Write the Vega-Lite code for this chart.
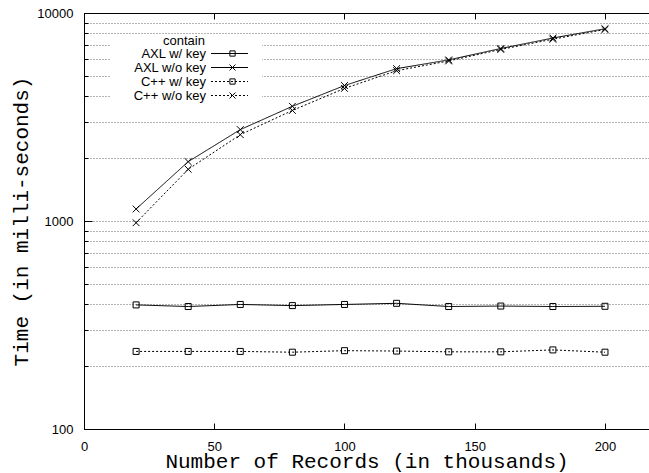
{
  "$schema": "https://vega.github.io/schema/vega-lite/v6.json",
  "width": 565,
  "height": 416,
  "autosize": {"type": "none"},
  "padding": {"left": 84, "top": 13, "right": 0, "bottom": 44},
  "background": "white",
  "title": {
    "text": "contain",
    "anchor": "start",
    "frame": "group",
    "orient": "top",
    "offset": 0,
    "baseline": "middle",
    "dx": 79,
    "dy": 47,
    "font": "Liberation Sans",
    "fontSize": 13,
    "fontWeight": "normal",
    "color": "black"
  },
  "config": {
    "view": {"stroke": null},
    "font": "Liberation Sans",
    "style": {"guide-title": {"fontWeight": "normal"}},
    "axis": {
      "labelFont": "Liberation Sans",
      "labelFontSize": 13,
      "labelColor": "black",
      "titleFont": "Liberation Mono",
      "titleFontSize": 21,
      "titleFontWeight": "normal",
      "titleColor": "black",
      "domainColor": "black",
      "domainWidth": 1,
      "tickColor": "black",
      "tickWidth": 1
    },
    "legend": {
      "labelFont": "Liberation Sans",
      "labelFontSize": 13,
      "labelColor": "black",
      "labelAlign": "right",
      "labelLimit": 0,
      "rowPadding": -2,
      "padding": 0
    }
  },
  "data": {
    "values": [
      {"records": 20, "time": 395, "series": "AXL w/ key"},
      {"records": 40, "time": 388, "series": "AXL w/ key"},
      {"records": 60, "time": 397, "series": "AXL w/ key"},
      {"records": 80, "time": 392, "series": "AXL w/ key"},
      {"records": 100, "time": 397, "series": "AXL w/ key"},
      {"records": 120, "time": 402, "series": "AXL w/ key"},
      {"records": 140, "time": 388, "series": "AXL w/ key"},
      {"records": 160, "time": 390, "series": "AXL w/ key"},
      {"records": 180, "time": 388, "series": "AXL w/ key"},
      {"records": 200, "time": 389, "series": "AXL w/ key"},
      {"records": 20, "time": 1142, "series": "AXL w/o key"},
      {"records": 40, "time": 1928, "series": "AXL w/o key"},
      {"records": 60, "time": 2750, "series": "AXL w/o key"},
      {"records": 80, "time": 3560, "series": "AXL w/o key"},
      {"records": 100, "time": 4480, "series": "AXL w/o key"},
      {"records": 120, "time": 5400, "series": "AXL w/o key"},
      {"records": 140, "time": 5950, "series": "AXL w/o key"},
      {"records": 160, "time": 6750, "series": "AXL w/o key"},
      {"records": 180, "time": 7580, "series": "AXL w/o key"},
      {"records": 200, "time": 8400, "series": "AXL w/o key"},
      {"records": 20, "time": 236, "series": "C++ w/ key"},
      {"records": 40, "time": 236, "series": "C++ w/ key"},
      {"records": 60, "time": 236, "series": "C++ w/ key"},
      {"records": 80, "time": 234, "series": "C++ w/ key"},
      {"records": 100, "time": 238, "series": "C++ w/ key"},
      {"records": 120, "time": 237, "series": "C++ w/ key"},
      {"records": 140, "time": 235, "series": "C++ w/ key"},
      {"records": 160, "time": 235, "series": "C++ w/ key"},
      {"records": 180, "time": 240, "series": "C++ w/ key"},
      {"records": 200, "time": 234, "series": "C++ w/ key"},
      {"records": 20, "time": 981, "series": "C++ w/o key"},
      {"records": 40, "time": 1773, "series": "C++ w/o key"},
      {"records": 60, "time": 2600, "series": "C++ w/o key"},
      {"records": 80, "time": 3400, "series": "C++ w/o key"},
      {"records": 100, "time": 4340, "series": "C++ w/o key"},
      {"records": 120, "time": 5280, "series": "C++ w/o key"},
      {"records": 140, "time": 5880, "series": "C++ w/o key"},
      {"records": 160, "time": 6680, "series": "C++ w/o key"},
      {"records": 180, "time": 7480, "series": "C++ w/o key"},
      {"records": 200, "time": 8330, "series": "C++ w/o key"}
    ]
  },
  "resolve": {"axis": {"x": "independent", "y": "independent"}},
  "layer": [
    {
      "mark": {"type": "line", "color": "black", "strokeWidth": 1},
      "encoding": {
        "x": {
          "field": "records",
          "type": "quantitative",
          "scale": {"domain": [0, 216.9], "nice": false, "zero": false},
          "axis": {
            "orient": "bottom",
            "values": [0, 50, 100, 150, 200],
            "tickSize": -6,
            "labelPadding": 17,
            "labelFlush": false,
            "grid": false,
            "title": "Number of Records (in thousands)",
            "titleFontWeight": "normal",
            "titlePadding": -3
          }
        },
        "y": {
          "field": "time",
          "type": "quantitative",
          "scale": {"type": "log", "domain": [100, 10000], "nice": false},
          "axis": {
            "orient": "left",
            "values": [100, 200, 300, 400, 500, 600, 700, 800, 900, 1000, 2000, 3000, 4000, 5000, 6000, 7000, 8000, 9000, 10000],
            "format": "d",
            "labelExpr": "datum.value == 100 || datum.value == 1000 || datum.value == 10000 ? datum.label : ''",
            "tickSize": -4,
            "labelPadding": 15,
            "grid": true,
            "gridDash": [1, 2],
            "gridColor": "#666",
            "gridWidth": 1,
            "title": "Time (in milli-seconds)",
            "titleFontWeight": "normal",
            "titlePadding": 5
          }
        },
        "strokeDash": {
          "field": "series",
          "type": "nominal",
          "scale": {"range": [[1, 0], [1, 0], [2, 2], [2, 2]]},
          "legend": {
            "orient": "none",
            "legendX": 26,
            "legendY": 23,
            "padding": 11,
            "title": null,
            "symbolType": "M27.83,0H40.17",
            "symbolSize": 36,
            "symbolStrokeWidth": 1,
            "symbolStrokeColor": "black",
            "labelOffset": 72,
            "fillColor": "white"
          }
        }
      }
    },
    {
      "mark": {"type": "point", "filled": false, "stroke": "black", "strokeWidth": 1, "size": 64, "opacity": 1},
      "encoding": {
        "x": {
          "field": "records",
          "type": "quantitative",
          "scale": {"domain": [0, 216.9], "nice": false, "zero": false},
          "axis": {
            "orient": "top",
            "values": [50, 100, 150, 200],
            "tickSize": -6,
            "labels": false,
            "grid": false,
            "title": null
          }
        },
        "y": {
          "field": "time",
          "type": "quantitative",
          "scale": {"type": "log", "domain": [100, 10000], "nice": false},
          "axis": {
            "orient": "left",
            "values": [100, 1000, 10000],
            "tickSize": -8,
            "labels": false,
            "grid": false,
            "title": null
          }
        },
        "shape": {
          "field": "series",
          "type": "nominal",
          "scale": {
            "domain": ["AXL w/ key", "AXL w/o key", "C++ w/ key", "C++ w/o key"],
            "range": ["M-0.75,-0.75H0.75V0.75H-0.75Z", "M-0.85,-0.85L0.85,0.85M-0.85,0.85L0.85,-0.85", "M-0.75,-0.75H0.75V0.75H-0.75Z", "M-0.85,-0.85L0.85,0.85M-0.85,0.85L0.85,-0.85"]
          },
          "legend": {
            "orient": "none",
            "legendX": 142,
            "legendY": 34,
            "title": null,
            "labelExpr": "''",
            "labelOffset": 0,
            "clipHeight": 13,
            "symbolSize": 49,
            "symbolStrokeWidth": 1,
            "symbolStrokeColor": "black",
            "symbolFillColor": "white"
          }
        }
      }
    }
  ]
}
